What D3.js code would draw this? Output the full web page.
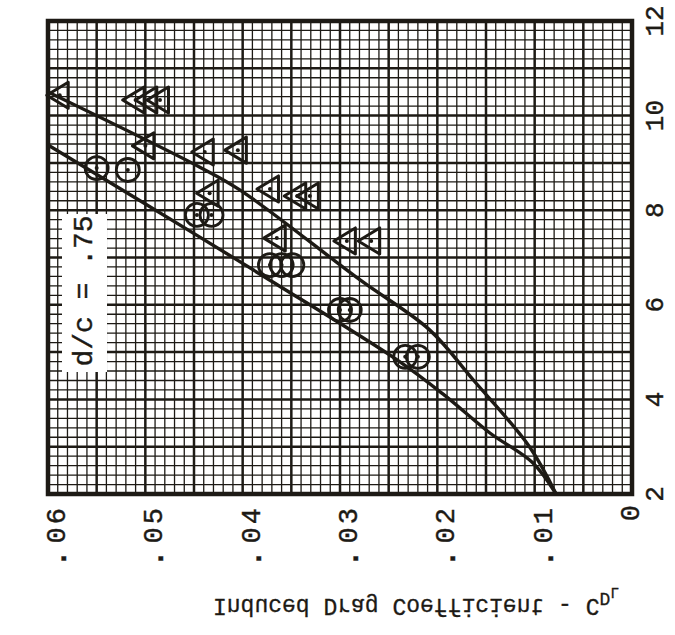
<!DOCTYPE html>
<html><head><meta charset="utf-8">
<script src="https://cdn.jsdelivr.net/npm/d3@7"></script>
<style>html,body{margin:0;padding:0;background:#fff;} svg{display:block;}</style>
</head><body>
<script>
// ---- data ----
const cdTicks = [0.06, 0.05, 0.04, 0.03, 0.02, 0.01, 0];
const cdTickLabels = [".06", ".05", ".04", ".03", ".02", ".01", "0"];
const alphaTicks = [2, 4, 6, 8, 10, 12];
const alphaTickLabels = ["2", "4", "6", "8", "10", "12"];

// upper curve (A = 1, triangles)
const curveA1Alpha = [2.0, 2.99, 4.41, 5.47, 6.52, 8.43, 8.91, 10.50];
const curveA1CD    = [0.0078, 0.0105, 0.0163, 0.0208, 0.0279, 0.0403, 0.0444, 0.0600];
// lower curve (A = 3, circles)
const curveA3Alpha = [2.0, 2.66, 3.29, 4.11, 4.83, 6.52, 7.43, 9.38];
const curveA3CD    = [0.0078, 0.0102, 0.0146, 0.0194, 0.0241, 0.0372, 0.0444, 0.0600];

// test points
const triAlpha = [10.43, 10.33, 10.33, 10.33, 9.36, 9.23, 9.27, 8.36, 8.45, 8.30, 8.30, 7.41, 7.35, 7.35];
const triCD    = [0.0590, 0.0512, 0.0499, 0.0487, 0.0502, 0.0441, 0.0407, 0.0436, 0.0374, 0.0346, 0.0333, 0.0367, 0.0295, 0.0270];
const circAlpha = [8.89, 8.85, 7.90, 7.90, 6.84, 6.84, 6.84, 5.89, 5.89, 4.90, 4.90];
const circCD    = [0.0550, 0.0518, 0.0447, 0.0432, 0.0372, 0.0360, 0.0349, 0.0300, 0.0290, 0.0233, 0.0220];

const paramLabel = "d/c = .75";
const titleMain = "Induced Drag Coefficient - C";
const titleSub1 = "D";
const titleSub2 = "L";

// ---- drawing ----
const W = 675, H = 635;
const ink = "#1d1a15";
const font = "'Liberation Mono', 'Courier New', monospace";
const box = {l: 48, r: 632, t: 21, b: 494};

const x = d3.scaleLinear().domain([0.06, 0]).range([box.l, box.r]);
const y = d3.scaleLinear().domain([2, 12]).range([box.b, box.t]);

const svg = d3.select("body").append("svg").attr("width", W).attr("height", H);
svg.append("rect").attr("width", W).attr("height", H).attr("fill", "#fff");

svg.append("clipPath").attr("id", "clip").append("rect")
  .attr("x", box.l).attr("y", box.t).attr("width", box.r - box.l).attr("height", box.b - box.t);

const g = svg.append("g");
const vLines = d3.range(0, 61).map(i => ({v: i * 0.001, heavy: i % 5 === 0}));
g.selectAll("line.v").data(vLines).join("line")
  .attr("x1", d => x(d.v)).attr("x2", d => x(d.v))
  .attr("y1", box.t).attr("y2", box.b)
  .attr("stroke", ink).attr("stroke-width", d => d.heavy ? 2.5 : 1.3);
const hLines = d3.range(0, 51).map(i => ({v: 2 + i * 0.2, heavy: i % 5 === 0}));
g.selectAll("line.h").data(hLines).join("line")
  .attr("y1", d => y(d.v)).attr("y2", d => y(d.v))
  .attr("x1", box.l).attr("x2", box.r)
  .attr("stroke", ink).attr("stroke-width", d => d.heavy ? 2.5 : 1.3);

// parameter label box
const lb = {x: 62, y: 214, w: 45, h: 158};
svg.append("rect").attr("x", lb.x).attr("y", lb.y).attr("width", lb.w).attr("height", lb.h).attr("fill", "#fff");

// border
svg.append("rect").attr("x", box.l).attr("y", box.t).attr("width", box.r - box.l).attr("height", box.b - box.t)
  .attr("fill", "none").attr("stroke", ink).attr("stroke-width", 4.5);

// curves
const line = d3.line().x(d => x(d[1])).y(d => y(d[0])).curve(d3.curveCatmullRom.alpha(0.5));
const cg = svg.append("g").attr("clip-path", "url(#clip)");
[[curveA1Alpha, curveA1CD], [curveA3Alpha, curveA3CD]].forEach(([a, c]) => {
  cg.append("path").attr("d", line(a.map((v, i) => [v, c[i]])))
    .attr("fill", "none").attr("stroke", ink).attr("stroke-width", 3.4);
});

// markers
const mg = svg.append("g");
const tri = triAlpha.map((a, i) => [a, triCD[i]]);
mg.selectAll("path.tri").data(tri).join("path")
  .attr("d", "M-11,0L10.5,-13L10.5,13Z")
  .attr("transform", d => `translate(${x(d[1])},${y(d[0])})`)
  .attr("fill", "none").attr("stroke", ink).attr("stroke-width", 3).attr("stroke-linejoin", "round");
mg.selectAll("circle.tdot").data(tri).join("circle")
  .attr("cx", d => x(d[1]) + 2).attr("cy", d => y(d[0])).attr("r", 2).attr("fill", ink);
const circ = circAlpha.map((a, i) => [a, circCD[i]]);
mg.selectAll("circle.c").data(circ).join("circle")
  .attr("cx", d => x(d[1])).attr("cy", d => y(d[0])).attr("r", 11.5)
  .attr("fill", "none").attr("stroke", ink).attr("stroke-width", 2.8);
mg.selectAll("circle.cdot").data(circ).join("circle")
  .attr("cx", d => x(d[1])).attr("cy", d => y(d[0])).attr("r", 2).attr("fill", ink);

// rotated text helper (reads bottom-to-top)
function rotText(sel, cx, cy, size, anchor) {
  return sel.append("text")
    .attr("transform", `translate(${cx},${cy}) rotate(-90)`)
    .attr("text-anchor", anchor).attr("dominant-baseline", "central")
    .attr("font-family", font).attr("font-size", size).attr("fill", ink)
    .attr("stroke", ink).attr("stroke-width", 0.4);
}

// bottom tick labels (drag coefficient)
cdTicks.forEach((v, i) => {
  const t = rotText(svg, x(v) + (v === 0 ? 0 : 10), 505, 27, "end");
  const s = cdTickLabels[i];
  if (s.startsWith(".")) {
    t.append("tspan").attr("font-weight", "bold").attr("font-size", 30).text(".");
    t.append("tspan").attr("dx", 6).attr("letter-spacing", 3).text(s.slice(1));
  } else {
    t.text(s);
  }
});
// right tick labels
alphaTicks.forEach((v, i) => {
  rotText(svg, 656, y(v), 26, "middle").text(alphaTickLabels[i]);
});
// parameter label
rotText(svg, lb.x + lb.w / 2, lb.y + lb.h / 2 - 2, 28, "middle").text(paramLabel);

// axis title (vertically flipped)
const t = svg.append("text")
  .attr("transform", `translate(213,599) scale(1,-1)`)
  .attr("font-family", font).attr("font-size", 23).attr("fill", ink)
  .attr("stroke", ink).attr("stroke-width", 0.3);
t.append("tspan").text(titleMain);
t.append("tspan").attr("dy", 6).attr("font-size", 18).text(titleSub1);
t.append("tspan").attr("dy", 5).attr("font-size", 15).text(titleSub2);
</script>
</body></html>
